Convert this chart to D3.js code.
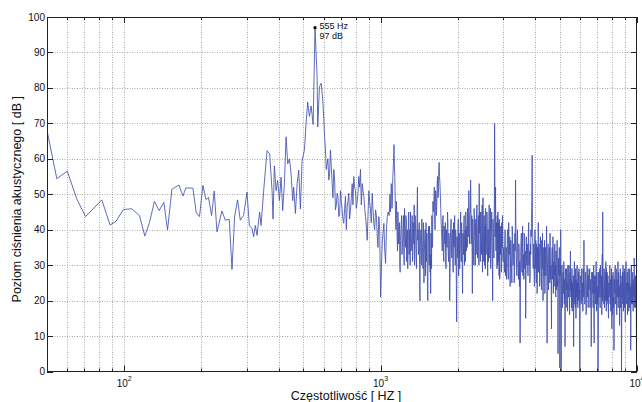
<!DOCTYPE html>
<html>
<head>
<meta charset="utf-8">
<script src="https://cdn.jsdelivr.net/npm/d3@7"></script>
<style>
body { margin: 0; background: #fff; }
svg { display: block; font-family: "Liberation Sans", Arial, sans-serif; }
</style>
</head>
<body>
<svg id="drawing_region"></svg>
<script>
// sparse low-frequency part, read point by point
const lowFreqs = [50, 54.6, 60, 65.3, 70.7, 81.8, 88.1, 93, 99.3, 107.1,
    114.7, 120.4, 125.5, 131.2, 136.9, 142.8, 147.6, 153.5, 163.5, 169.5,
    174.1, 185.4, 191, 196.7, 202.8, 208.4, 213.3, 219.2, 224.5, 230.1,
    240.6, 247.9, 257, 263.3, 269.6, 276.9, 283.7, 292.2, 301.3, 307.7,
    315.2, 319.8, 324.7, 329.7, 337.5, 341.8, 349.9, 360.7, 369.3, 377.3,
    380.7, 385.2, 391.2, 396.8, 403, 409.2, 415.1, 421.5, 428, 434.3,
    440.9, 447.7, 454.2, 458.3, 465.4, 472.5, 479.4, 486.7, 494.2, 504.5,
    512.2, 519.5, 527.5, 536, 545.6, 555, 565.4, 568.6, 577.4, 586.5,
    595, 600.4, 609.6, 618.9, 627.8, 637.6, 647.4, 656.8, 666.8, 677.1,
    686.9, 697.4, 708.2, 718.5, 729.6, 740.9, 751.6, 763.1, 774.9, 786.1,
    798.1, 810.5, 822.2, 834.9, 847.8, 860.1, 873.4, 886.9, 899.8, 913.6,
    927.7, 941.1, 955.7, 970.4, 984.4, 1000, 1015, 1030, 1046, 1062];
const lowLevels = [68, 54.4, 56.5, 48.7, 43.7, 48.4, 41.3, 42.4, 45.7, 45.9,
    44, 38.2, 42, 48, 45.4, 47.7, 39.9, 51.4, 52.6, 49.5,
    51.8, 51.7, 44.8, 43.7, 52.5, 48.5, 49.1, 44, 50.9, 39.4,
    45.3, 42.7, 42.9, 28.8, 43.8, 48.4, 42.7, 44, 50.6, 41.2,
    40.3, 38, 41.2, 38.4, 45, 41.2, 51, 62.3, 61.4, 51,
    43, 58, 51, 53.9, 48.2, 54.8, 45.4, 53, 66.2, 58.6,
    60, 55.8, 48.2, 52, 44.6, 53, 56.8, 45.8, 59.6, 62.4,
    70, 76, 72, 74.9, 69.7, 97, 83.2, 69, 80.3, 81.3,
    76.6, 71, 62.5, 58.7, 54, 62.5, 53, 57, 45.6, 50.3,
    43.7, 51, 45.6, 41.8, 49.4, 46.5, 50.3, 45.6, 53, 55,
    51, 48, 55, 57, 53, 49.4, 43.7, 37, 51, 45.6,
    50.3, 41.8, 45.6, 38, 43.7, 21, 36.3, 41.8, 30.5, 43.7];
// extra bins between the ones above (600 - 1070 Hz)
const midFreqs = [605, 614, 623, 632, 642, 652, 662, 672, 682, 692,
    703, 713, 724, 735, 746, 757, 769, 780, 792, 804,
    816, 828, 841, 854, 867, 880, 893, 906, 920, 934,
    948, 963, 977, 992, 1008, 1022, 1038, 1054, 1070];
const midLevels = [66, 57, 60, 55, 58, 49, 54, 47, 49, 44,
    48, 43, 46, 40, 48, 43, 49, 47, 52, 46,
    50, 52, 47, 51, 46, 41, 44, 48, 42, 46,
    40, 44, 35, 40, 30, 39, 34, 40, 45];

// dense high-frequency part: levels on evenly spaced frequency bins
const bandStarts = [1080, 1084, 1608, 1614, 3020, 3030, 6030, 6045];
const bandSteps = [8, 8, 12, 12, 20, 20, 30, 30];
const bandA = [44, 50, 47, 52, 49, 57, 64, 55, 43, 48, 38, 45, 36, 42, 28, 40, 44, 35, 41, 33,
    46, 38, 44, 31, 40, 35, 45, 37, 30, 42, 36, 44, 33, 39, 47, 35, 41, 32, 38, 52,
    40, 34, 42, 20, 37, 31, 43, 35, 29, 40, 33, 38, 27, 42, 36, 30, 20, 39, 34, 41,
    28, 22, 37, 44, 35, 48];
const bandA2 = [47, 45, 53, 46, 55, 60, 58, 49, 40, 44, 34, 41, 39, 30, 37, 42, 33, 38, 44, 30,
    40, 35, 42, 37, 29, 43, 33, 40, 45, 34, 39, 31, 42, 36, 30, 44, 38, 29, 45, 37,
    33, 41, 26, 36, 40, 30, 38, 32, 42, 25, 36, 40, 33, 31, 39, 24, 35, 41, 30, 37,
    33, 39, 29, 41, 38, 46];
const bandB = [45, 52, 40, 50, 47, 55, 50, 59, 53, 46,
    40, 34, 44, 31, 38, 42, 29, 36, 45, 33, 39, 20,
    37, 43, 32, 40, 28, 35, 44, 30, 38, 14,
    36, 41, 27, 39, 33, 45, 31, 37, 22,
    35, 42, 30, 40, 45, 34, 41, 46, 38, 51, 36, 44, 54,
    36, 44, 22, 41, 33, 46, 38, 30, 43, 35, 47, 32, 40, 37, 53,
    39, 31, 45, 36, 42, 28, 49,
    35, 43, 30, 41, 46, 33, 38, 44, 27, 40, 36, 47, 32, 42, 29, 39, 45, 34, 20,
    41, 36, 44, 70,
    38, 52, 34, 42, 29, 40, 45, 31, 37, 43, 26, 39, 35, 41, 30, 36, 44, 32];
const bandB2 = [48, 43, 51, 44, 53, 49, 57, 55, 50, 42,
    37, 43, 33, 41, 36, 30, 40, 35, 42, 31,
    36, 28, 41, 34, 39, 30, 42, 36, 33, 40,
    25, 38, 32, 43, 35, 29, 40, 34, 42, 28,
    39, 33, 44, 36, 31, 42, 38, 35, 43, 40,
    47, 39, 45, 48, 41, 35, 43, 38, 30, 44,
    37, 42, 33, 46, 39, 35, 44, 30, 41, 45,
    36, 40, 33, 47, 38, 42, 31, 44, 37, 29,
    42, 36, 45, 34, 40, 31, 43, 38, 35, 46,
    33, 41, 37, 30, 43, 38, 32, 47, 56, 44,
    35, 40, 33, 44, 30, 38, 42, 27, 36, 41,
    33, 39, 28, 42, 35, 38, 31];
const bandC = [35, 28, 40, 32, 26, 38, 30, 42, 33, 24, 37, 29, 41, 31, 36, 25, 39, 54,
    33, 27, 40, 30, 36, 24, 8,
    34, 39, 28, 41, 31, 26, 37, 33, 15,
    38, 30, 35, 27, 42, 32, 25, 36, 40, 45, 61,
    38, 29, 34, 24, 40, 31, 27, 36, 22, 33, 42, 28, 35, 25, 38, 30, 23, 34, 39, 20,
    32, 27, 37, 24, 35, 29, 41, 8,
    31, 36, 23, 33, 28, 39, 26, 30, 12,
    34, 27, 38, 22, 31, 25, 36, 29, 21, 33, 26, 37, 24, 5,
    32, 27, 35, 1, 30, 40, 0,
    24, 30, 18, 27, 22, 31, 20, 26, 7, 28, 23, 19, 29, 25, 17, 30, 21, 27, 24, 16, 28, 34,
    22, 26, 18, 29, 24, 20, 27, 7, 25, 31, 19, 23, 28, 15, 26, 21, 30, 24, 18, 27, 22, 29, 20, 0, 25];
const bandC2 = [31, 37, 27, 35, 30, 40, 26, 34, 38, 29,
    33, 25, 39, 30, 36, 28, 34, 41, 29, 37,
    32, 26, 35, 31, 22, 37, 30, 35, 27, 33,
    39, 29, 34, 24, 32, 36, 28, 38, 30, 34,
    27, 33, 38, 48, 42, 31, 36, 27, 33, 29,
    37, 25, 32, 35, 28, 30, 36, 24, 32, 34,
    27, 37, 29, 31, 26, 35, 30, 22, 33, 27,
    34, 29, 24, 33, 27, 31, 35, 25, 32, 28,
    22, 30, 35, 26, 33, 29, 24, 32, 27, 30,
    34, 23, 29, 31, 26, 20, 30, 33, 24, 18,
    27, 32, 15, 29, 25, 21, 28, 24, 30, 19,
    26, 22, 29, 18, 27, 23, 20, 28, 25, 22,
    30, 19, 26, 23, 28, 21, 24, 29, 17, 25,
    22, 27, 20, 28, 23, 26, 18, 29, 21, 24,
    27, 19, 25, 22, 28, 20, 26, 23, 14, 27];
const bandD = [26, 19, 29, 23, 17, 27, 37,
    24, 20, 28, 16, 25, 30, 21, 18, 27, 23, 29, 19, 26, 7,
    28, 22, 25, 18, 30, 8,
    24, 27, 20, 31, 17, 26, 22, 0,
    28, 21, 25, 19, 30, 23, 27, 16, 33, 45,
    25, 21, 29, 18, 26, 23, 31, 17, 24, 28, 20, 27, 15, 25, 22, 30, 19, 26, 23, 29, 12, 24, 21, 28, 18, 6,
    26, 22, 30, 19, 25, 28, 16, 24, 21, 31, 20, 27, 23, 13, 26, 29, 18, 24, 0,
    27, 21, 25, 30, 17, 23, 28, 20, 26, 14, 24, 31, 19, 22, 27, 16, 25, 29, 21, 23, 18, 28, 24, 20, 6,
    26, 30, 19, 24, 22, 28, 17, 25, 21, 32, 20, 27, 23, 18, 26, 22, 0, 24];
const bandD2 = [22, 27, 20, 25, 29, 21, 26, 19, 28, 23,
    17, 26, 22, 29, 20, 24, 27, 18, 23, 21,
    15, 25, 28, 20, 24, 13, 27, 22, 19, 26,
    23, 28, 19, 24, 10, 25, 22, 29, 18, 26,
    21, 24, 28, 20, 30, 23, 19, 26, 22, 28,
    20, 25, 29, 19, 23, 27, 18, 24, 21, 26,
    29, 22, 17, 25, 20, 27, 16, 23, 26, 21,
    12, 24, 27, 20, 23, 29, 19, 26, 22, 25,
    18, 28, 21, 24, 17, 27, 22, 25, 20, 9,
    24, 28, 19, 26, 22, 25, 18, 29, 21, 23,
    27, 20, 25, 22, 28, 19, 24, 26, 17, 25,
    22, 29, 20, 24, 11, 27, 21, 25, 19, 28,
    23, 20, 26, 22, 29, 18, 25, 21, 27, 23,
    12, 25, 22];
const bandLevels = [bandA, bandA2, bandB, bandB2, bandC, bandC2, bandD, bandD2];

const yTicks = [0, 10, 20, 30, 40, 50, 60, 70, 80, 90, 100];
const xDecades = [100, 1000, 10000];
const xDecadeExp = ['2', '3', '4'];
const xMinor = [60, 70, 80, 90, 200, 300, 400, 500, 600, 700, 800, 900,
    2000, 3000, 4000, 5000, 6000, 7000, 8000, 9000];
const peakFreq = 555;
const peakLevel = 97;

class SpectrumChart {

    constructor( config, data ) {
        this.config = config;
        this.data = data;
        this.init();
    }

    init() {
        let self = this;

        self.svg = d3.select( self.config.parent )
            .attr('width', self.config.width)
            .attr('height', self.config.height);

        self.chart = self.svg.append('g')
            .attr('transform', `translate(${self.config.margin.left}, ${self.config.margin.top})`);

        self.inner_width = self.config.width - self.config.margin.left - self.config.margin.right;
        self.inner_height = self.config.height - self.config.margin.top - self.config.margin.bottom;

        self.xscale = d3.scaleLog()
            .domain([50, 10000])
            .range([0, self.inner_width]);

        self.yscale = d3.scaleLinear()
            .domain([0, 100])
            .range([self.inner_height, 0]);
    }

    render() {
        let self = this;
        const W = self.inner_width, H = self.inner_height;

        // grid
        const grid = self.chart.append('g')
            .attr('stroke', '#a8a8a8')
            .attr('stroke-width', 1)
            .attr('stroke-dasharray', '1,1.5');
        grid.selectAll('.gx')
            .data(xMinor.concat(xDecades.slice(0, 2)))
            .join('line')
            .attr('x1', d => Math.round(self.xscale(d)) + 0.5)
            .attr('x2', d => Math.round(self.xscale(d)) + 0.5)
            .attr('y1', 0).attr('y2', H);
        grid.selectAll('.gy')
            .data(yTicks.slice(1, -1))
            .join('line')
            .attr('class', 'gy')
            .attr('x1', 0).attr('x2', W)
            .attr('y1', d => Math.round(self.yscale(d)) + 0.5)
            .attr('y2', d => Math.round(self.yscale(d)) + 0.5);

        // spectrum
        self.svg.append('defs').append('clipPath').attr('id', 'clip')
            .append('rect').attr('width', W).attr('height', H + 1);

        const line = d3.line()
            .x(d => self.xscale(d.f))
            .y(d => self.yscale(d.v));

        self.chart.append('path')
            .datum(self.data)
            .attr('clip-path', 'url(#clip)')
            .attr('fill', 'none')
            .attr('stroke', '#4250ad')
            .attr('stroke-width', 0.85)
            .attr('stroke-linejoin', 'round')
            .attr('d', line);

        // box and ticks
        const axes = self.chart.append('g')
            .attr('stroke', '#222')
            .attr('stroke-width', 1);
        axes.append('rect')
            .attr('x', 0.5).attr('y', 0.5)
            .attr('width', W - 1).attr('height', H - 0.5)
            .attr('fill', 'none');

        const xt = [];
        xDecades.forEach(d => xt.push({ v: d, len: 6 }));
        xMinor.forEach(d => xt.push({ v: d, len: 3 }));
        xt.forEach(t => {
            const px = Math.round(self.xscale(t.v)) + 0.5;
            axes.append('line').attr('x1', px).attr('x2', px).attr('y1', H).attr('y2', H - t.len);
            axes.append('line').attr('x1', px).attr('x2', px).attr('y1', 0).attr('y2', t.len);
        });
        yTicks.forEach(v => {
            const py = Math.round(self.yscale(v)) + 0.5;
            axes.append('line').attr('x1', 0).attr('x2', 6).attr('y1', py).attr('y2', py);
            axes.append('line').attr('x1', W).attr('x2', W - 6).attr('y1', py).attr('y2', py);
        });

        // tick labels
        self.chart.selectAll('.ylab')
            .data(yTicks)
            .join('text')
            .attr('class', 'ylab')
            .attr('x', -2)
            .attr('y', d => self.yscale(d) + 3.5)
            .attr('text-anchor', 'end')
            .attr('font-size', '10px')
            .attr('fill', '#111')
            .text(d => d);

        const xl = self.chart.selectAll('.xlab')
            .data(xDecades)
            .join('text')
            .attr('class', 'xlab')
            .attr('x', d => self.xscale(d))
            .attr('y', H + 15)
            .attr('text-anchor', 'middle')
            .attr('font-size', '10px')
            .attr('fill', '#111');
        xl.append('tspan').text('10');
        xl.append('tspan')
            .attr('font-size', '7px')
            .attr('dy', -6)
            .text((d, i) => xDecadeExp[i]);

        // peak annotation
        const px = self.xscale(peakFreq), py = self.yscale(peakLevel);
        self.chart.append('circle')
            .attr('cx', px).attr('cy', py).attr('r', 1.6)
            .attr('fill', '#000');
        self.chart.append('text')
            .attr('x', px + 4.5).attr('y', py + 1)
            .attr('font-size', '9px').attr('fill', '#111')
            .text(`${peakFreq} Hz`);
        self.chart.append('text')
            .attr('x', px + 4.5).attr('y', py + 11)
            .attr('font-size', '9px').attr('fill', '#111')
            .text(`${peakLevel} dB`);

        // axis titles
        self.svg.append('text')
            .attr('x', self.config.margin.left + W / 2 + 4)
            .attr('y', self.config.height - 2.5)
            .attr('text-anchor', 'middle')
            .attr('font-size', '12.5px')
            .attr('fill', '#111')
            .text(self.config.xlabel);

        self.svg.append('text')
            .attr('transform', `translate(21, ${self.config.margin.top + H / 2 + 5}) rotate(-90)`)
            .attr('text-anchor', 'middle')
            .attr('font-size', '12.5px')
            .attr('fill', '#111')
            .text(self.config.ylabel);
    }
}

const data = [];
lowFreqs.forEach((f, i) => data.push({ f: f, v: lowLevels[i] }));
midFreqs.forEach((f, i) => data.push({ f: f, v: midLevels[i] }));
bandLevels.forEach((levels, b) => {
    levels.forEach((v, i) => data.push({ f: bandStarts[b] + i * bandSteps[b], v: v }));
});
data.sort((a, b) => a.f - b.f);

const config = {
    parent: '#drawing_region',
    width: 642,
    height: 402,
    margin: { top: 17, right: 5, bottom: 30.5, left: 47 },
    xlabel: 'Częstotliwość [ HZ ]',
    ylabel: 'Poziom ciśnienia akustycznego [ dB ]',
};

const chart = new SpectrumChart( config, data );
chart.render();
</script>
</body>
</html>
